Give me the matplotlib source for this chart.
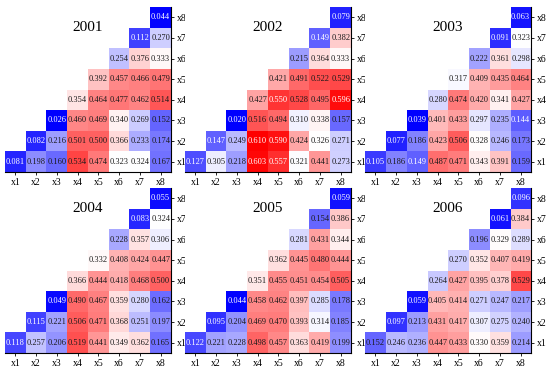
import numpy as np
import matplotlib
matplotlib.use("Agg")
import matplotlib.pyplot as plt
from matplotlib.colors import TwoSlopeNorm

labels = ["x1", "x2", "x3", "x4", "x5", "x6", "x7", "x8"]
years = ["2001", "2002", "2003", "2004", "2005", "2006"]

# rows x1..x8, values for columns from the row's own index up to x8
v2001 = [[0.081, 0.198, 0.160, 0.534, 0.474, 0.323, 0.324, 0.167],
         [0.082, 0.216, 0.501, 0.500, 0.366, 0.233, 0.174],
         [0.026, 0.460, 0.469, 0.340, 0.269, 0.152],
         [0.354, 0.464, 0.477, 0.462, 0.514],
         [0.392, 0.457, 0.466, 0.479],
         [0.254, 0.376, 0.333],
         [0.112, 0.270],
         [0.044]]
v2002 = [[0.127, 0.305, 0.218, 0.603, 0.557, 0.321, 0.441, 0.273],
         [0.147, 0.249, 0.610, 0.590, 0.424, 0.326, 0.271],
         [0.020, 0.516, 0.494, 0.310, 0.338, 0.157],
         [0.427, 0.550, 0.528, 0.495, 0.596],
         [0.421, 0.491, 0.522, 0.529],
         [0.215, 0.364, 0.333],
         [0.149, 0.382],
         [0.079]]
v2003 = [[0.105, 0.186, 0.149, 0.487, 0.471, 0.343, 0.391, 0.159],
         [0.077, 0.186, 0.423, 0.506, 0.328, 0.246, 0.173],
         [0.039, 0.401, 0.433, 0.297, 0.235, 0.144],
         [0.280, 0.474, 0.420, 0.341, 0.427],
         [0.317, 0.409, 0.435, 0.464],
         [0.222, 0.361, 0.298],
         [0.091, 0.323],
         [0.063]]
v2004 = [[0.118, 0.257, 0.206, 0.519, 0.441, 0.349, 0.362, 0.165],
         [0.115, 0.221, 0.506, 0.471, 0.368, 0.251, 0.197],
         [0.049, 0.490, 0.467, 0.359, 0.280, 0.162],
         [0.366, 0.444, 0.418, 0.468, 0.500],
         [0.332, 0.408, 0.424, 0.447],
         [0.228, 0.357, 0.306],
         [0.083, 0.324],
         [0.055]]
v2005 = [[0.122, 0.221, 0.228, 0.498, 0.457, 0.363, 0.419, 0.199],
         [0.095, 0.204, 0.469, 0.470, 0.393, 0.314, 0.185],
         [0.044, 0.458, 0.462, 0.397, 0.285, 0.178],
         [0.351, 0.455, 0.451, 0.454, 0.505],
         [0.362, 0.445, 0.480, 0.444],
         [0.281, 0.431, 0.344],
         [0.154, 0.386],
         [0.059]]
v2006 = [[0.152, 0.246, 0.236, 0.447, 0.433, 0.330, 0.359, 0.214],
         [0.097, 0.213, 0.431, 0.417, 0.307, 0.275, 0.240],
         [0.059, 0.405, 0.414, 0.271, 0.247, 0.217],
         [0.264, 0.427, 0.395, 0.378, 0.529],
         [0.270, 0.352, 0.407, 0.419],
         [0.196, 0.329, 0.289],
         [0.061, 0.384],
         [0.096]]
data = [v2001, v2002, v2003, v2004, v2005, v2006]

plt.rcParams['font.family'] = ['Liberation Serif', 'DejaVu Serif']

fig = plt.figure(figsize=(5.5, 3.73), dpi=100)
norm = TwoSlopeNorm(vmin=0.04, vcenter=0.325, vmax=0.61)
cmap = plt.get_cmap('bwr')

lefts = [5/550, 185/550, 365/550]
bottoms = [1 - 172/373, 1 - 353/373]
w = 166/550
h = 165/373

n = len(labels)
for k, (yr, rows) in enumerate(zip(years, data)):
    ax = fig.add_axes([lefts[k % 3], bottoms[k // 3], w, h])
    M = np.full((n, n), np.nan)
    for r, row in enumerate(rows):
        for j, val in enumerate(row):
            M[r, r + j] = val
    Mm = np.ma.masked_invalid(M)
    ax.imshow(Mm, cmap=cmap, norm=norm, origin='lower', aspect='auto',
              extent=(-0.5, n - 0.5, -0.5, n - 0.5), interpolation='nearest')
    for r in range(n):
        for c in range(n):
            val = M[r, c]
            if np.isnan(val):
                continue
            col = 'white' if (val < 0.15 or val > 0.54) else '#1a1a1a'
            ax.text(c, r, f"{val:.3f}", ha='center', va='center',
                    fontsize=6.0, color=col)
    ax.set_xlim(-0.5, n - 0.5)
    ax.set_ylim(-0.5, n - 0.5)
    ax.set_xticks(range(n))
    ax.set_xticklabels(labels, fontsize=7)
    ax.set_yticks(range(n))
    ax.set_yticklabels(labels, fontsize=7)
    ax.yaxis.tick_right()
    ax.tick_params(length=2.5, width=0.6, pad=1.5)
    ax.spines['left'].set_visible(False)
    ax.spines['top'].set_visible(False)
    ax.spines['right'].set_linewidth(0.8)
    ax.spines['bottom'].set_linewidth(0.8)
    ax.text(0.5, 0.873, yr, transform=ax.transAxes, ha='center', va='center',
            fontsize=11)

fig.savefig("out.png", dpi=100)
